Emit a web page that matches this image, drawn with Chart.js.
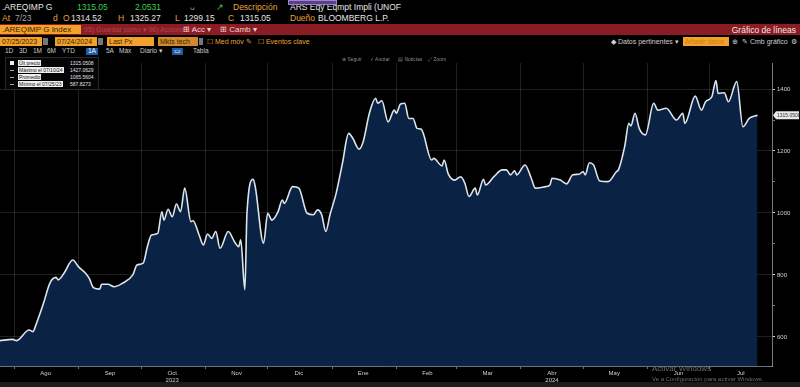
<!DOCTYPE html>
<html>
<head>
<meta charset="utf-8">
<script src="https://cdn.jsdelivr.net/npm/chart.js@4.4.1/dist/chart.umd.min.js"></script>
<style>
  body { margin: 0; width: 800px; height: 387px; background: #000; overflow: hidden; position: relative;
         font-family: 'Liberation Sans', Arial, sans-serif; }
  .t { position: absolute; white-space: nowrap; line-height: 1; }
  .w { color: #e6e6e6; }
  .g { color: #3fcf4f; }
  .o { color: #e9a23b; }
  .gr { color: #a0a0a0; }
  .r1 { top: 3px; font-size: 8.5px; }
  .r2 { top: 14px; font-size: 8.5px; }
  .bar { position: absolute; left: 0; top: 24px; width: 800px; height: 11px; background: #8a1c24; }
  .box { position: absolute; top: 37px; height: 9px; background: #f3a12a; color: #3a2400; font-size: 7px;
         line-height: 9px; padding-left: 2px; box-sizing: border-box; }
  .r4 { top: 38px; font-size: 7px; }
  .r5 { top: 48px; font-size: 6.5px; color: #c9c9c9; }
  .tb { top: 57px; font-size: 5px; color: #8a8a8a; z-index: 2; }
  #grafico { position: absolute; left: 0; top: 56px; }
  .ley { position: absolute; left: 5px; top: 57px; width: 92px; height: 31px; background: #050505;
         border: 1px solid #2a2a2a; z-index: 2; font-size: 5px; }
  .fila { position: absolute; left: 0; height: 6px; width: 92px; }
  .fila .m { position: absolute; left: 4px; top: 1px; width: 4px; height: 4px; }
  .fila .e { position: absolute; left: 12px; top: 0; background: #f0f0f0; color: #111; padding: 0 1px; line-height: 6px; }
  .fila .v { position: absolute; left: 64px; top: 0; color: #e0e0e0; line-height: 6px; }
  .pie { position: absolute; left: 0; top: 382px; width: 800px; height: 5px; background: #1c1c1c; }
</style>
</head>
<body>
<!-- fila de cotizacion -->
<div class="t r1 w" style="left:2px">.AREQIMP G</div>
<div class="t r1 g" style="left:77px">1315.05</div>
<div class="t r1 g" style="left:135px">2.0531</div>
<div class="t r1 gr" style="left:190px">ᴗ</div>
<div class="t r1 g" style="left:216px">↗</div>
<div class="t r1 o" style="left:233px">Descripción</div>
<div class="t r1 w" style="left:290px">ARS Eqy Eqmpt Impli (UNOF</div>
<div style="position:absolute;left:288px;top:0;width:47px;height:3px;background:#5b3f8f;border:1px solid #9b86c4"></div>

<div class="t r2 o" style="left:2px">At</div>
<div class="t r2 gr" style="left:15px">7/23</div>
<div class="t r2 o" style="left:53px">d</div>
<div class="t r2 o" style="left:63px">O</div>
<div class="t r2 w" style="left:71px">1314.52</div>
<div class="t r2 o" style="left:118px">H</div>
<div class="t r2 w" style="left:130px">1325.27</div>
<div class="t r2 o" style="left:175px">L</div>
<div class="t r2 w" style="left:184px">1299.15</div>
<div class="t r2 o" style="left:228px">C</div>
<div class="t r2 w" style="left:240px">1315.05</div>
<div class="t r2 o" style="left:290px">Dueño</div>
<div class="t r2 w" style="left:318px">BLOOMBERG L.P.</div>

<!-- barra roja -->
<div class="bar"></div>
<div class="box" style="top:25px;left:0;width:81px;font-size:8px;">.AREQIMP G Index</div>
<div class="t" style="top:26px;left:84px;font-size:7px;color:#b0464c">95) Guardar como ▾  96) Acciones ▾</div>
<div class="t" style="top:26px;left:183px;font-size:8px;color:#f1d0d3">⊞ Acc ▾</div>
<div class="t" style="top:26px;left:220px;font-size:8px;color:#f1d0d3">⊞ Camb ▾</div>
<div class="t" style="top:26px;right:4px;font-size:8.5px;color:#f4e4e6">Gráfico de líneas</div>

<!-- fila de controles -->
<div class="box" style="left:0;width:42px">07/25/2023</div>
<div style="position:absolute;left:43px;top:38px;width:5px;height:7px;background:#777"></div>
<div class="box" style="left:55px;width:42px">07/24/2024</div>
<div style="position:absolute;left:98px;top:38px;width:5px;height:7px;background:#777"></div>
<div class="box" style="left:107px;width:47px">Last Px</div>
<div class="box" style="left:158px;width:40px;background:#d4882c">Mkts tech</div>
<div style="position:absolute;left:199px;top:38px;width:4px;height:7px;background:#777"></div>
<div class="t r4 o" style="left:207px">☐ Med móv ✎</div>
<div class="t r4 o" style="left:258px">☐ Eventos clave</div>
<div class="t r4" style="left:611px;color:#cfcfcf">◆ Datos pertinentes ▾</div>
<div class="box" style="left:683px;width:46px;color:#c77f14">Añadir datos</div>
<div class="t r4" style="left:732px;color:#cfcfcf">⊕</div>
<div class="t r4" style="left:742px;color:#cfcfcf">✎ Cmb gráfico</div>
<div class="t r4" style="left:791px;color:#cfcfcf">⚙</div>

<!-- periodos -->
<div class="t r5" style="left:5px">1D</div>
<div class="t r5" style="left:19px">3D</div>
<div class="t r5" style="left:33px">1M</div>
<div class="t r5" style="left:47px">6M</div>
<div class="t r5" style="left:62px">YTD</div>
<div class="t r5" style="left:86px;background:#1d5ca6;color:#fff;padding:0 2px">1A</div>
<div class="t r5" style="left:106px">5A</div>
<div class="t r5" style="left:119px">Máx</div>
<div class="t r5" style="left:140px">Diario ▾</div>
<div class="t r5" style="left:172px;background:#1d5ca6;color:#fff;padding:0 2px">▭</div>
<div class="t r5" style="left:193px">Tabla</div>

<!-- barra de herramientas del grafico -->
<div class="t tb" style="left:342px">⊕ Seguir</div>
<div class="t tb" style="left:370px">✓ Anotar</div>
<div class="t tb" style="left:398px">▤ Noticias</div>
<div class="t tb" style="left:428px">⤢ Zoom</div>

<canvas id="grafico" width="800" height="326"></canvas>

<!-- leyenda -->
<div class="ley">
  <div class="fila" style="top:2px"><span class="m" style="background:#eee"></span><span class="e">Últ precio</span><span class="v">1315.0508</span></div>
  <div class="fila" style="top:9px"><span class="m" style="height:1px;top:3px;background:#aaa"></span><span class="e">Máximo el 07/10/24</span><span class="v">1427.0629</span></div>
  <div class="fila" style="top:16px"><span class="m" style="height:1px;top:3px;background:#aaa"></span><span class="e">Promedio</span><span class="v">1065.5604</span></div>
  <div class="fila" style="top:23px"><span class="m" style="height:1px;top:3px;background:#aaa"></span><span class="e">Mínimo el 07/25/23</span><span class="v">587.8273</span></div>
</div>

<div class="t" style="left:652px;top:365px;font-size:8px;color:#6d6d6d">Activar Windows</div>
<div class="t" style="left:652px;top:376px;font-size:6px;color:#6d6d6d">Ve a Configuración para activar Windows.</div>
<div class="pie"></div>

<script>
const fechas = [
  '2023-07-25', '2023-07-31', '2023-08-02', '2023-08-08', '2023-08-10', '2023-08-11', '2023-08-15', '2023-08-18',
  '2023-08-21', '2023-08-22', '2023-08-25', '2023-08-29', '2023-09-01', '2023-09-04', '2023-09-06', '2023-09-08',
  '2023-09-11', '2023-09-12', '2023-09-15', '2023-09-18', '2023-09-22', '2023-09-27', '2023-09-29', '2023-10-02',
  '2023-10-04', '2023-10-06', '2023-10-09', '2023-10-11', '2023-10-12', '2023-10-14', '2023-10-16', '2023-10-18',
  '2023-10-20', '2023-10-22', '2023-10-25', '2023-10-26', '2023-10-29', '2023-10-31', '2023-11-02', '2023-11-04',
  '2023-11-06', '2023-11-08', '2023-11-12', '2023-11-15', '2023-11-17', '2023-11-18', '2023-11-20', '2023-11-21',
  '2023-11-24', '2023-11-25', '2023-11-29', '2023-12-01', '2023-12-03', '2023-12-06', '2023-12-08', '2023-12-09',
  '2023-12-13', '2023-12-16', '2023-12-20', '2023-12-23', '2023-12-25', '2023-12-27', '2023-12-29', '2023-12-31',
  '2024-01-03', '2024-01-06', '2024-01-09', '2024-01-11', '2024-01-14', '2024-01-16', '2024-01-19', '2024-01-22',
  '2024-01-23', '2024-01-25', '2024-01-28', '2024-01-31', '2024-02-01', '2024-02-03', '2024-02-05', '2024-02-07',
  '2024-02-09', '2024-02-11', '2024-02-13', '2024-02-18', '2024-02-19', '2024-02-23', '2024-02-24', '2024-02-26',
  '2024-02-29', '2024-03-03', '2024-03-05', '2024-03-07', '2024-03-10', '2024-03-11', '2024-03-14', '2024-03-15',
  '2024-03-19', '2024-03-23', '2024-03-25', '2024-03-27', '2024-03-29', '2024-03-30', '2024-04-03', '2024-04-06',
  '2024-04-08', '2024-04-13', '2024-04-15', '2024-04-16', '2024-04-20', '2024-04-23', '2024-04-26', '2024-04-29',
  '2024-05-01', '2024-05-02', '2024-05-04', '2024-05-06', '2024-05-09', '2024-05-13', '2024-05-17', '2024-05-18',
  '2024-05-21', '2024-05-23', '2024-05-24', '2024-05-26', '2024-05-28', '2024-05-31', '2024-06-04', '2024-06-06',
  '2024-06-10', '2024-06-15', '2024-06-18', '2024-06-19', '2024-06-24', '2024-06-27', '2024-06-29', '2024-07-02',
  '2024-07-04', '2024-07-05', '2024-07-08', '2024-07-10', '2024-07-14', '2024-07-17', '2024-07-20', '2024-07-24'
];

const valores = [
  587.83, 592, 588, 622, 617, 633, 709, 773,
  792, 784, 807, 848, 825, 807, 789, 759,
  754, 770, 770, 762, 773, 800, 832, 838,
  891, 929, 934, 1004, 977, 1012, 988, 1029,
  1004, 1080, 972, 975, 928, 897, 932, 918,
  940, 886, 940, 907, 891, 913, 752, 999,
  1109, 1085, 902, 999, 977, 1004, 1042, 1031,
  1085, 1080, 999, 994, 1010, 994, 940, 994,
  1064, 1160, 1257, 1241, 1206, 1230, 1322, 1370,
  1354, 1362, 1294, 1332, 1322, 1352, 1354, 1305,
  1305, 1273, 1270, 1171, 1176, 1152, 1171, 1126,
  1106, 1117, 1096, 1053, 1080, 1058, 1109, 1090,
  1117, 1139, 1139, 1123, 1136, 1123, 1155, 1112,
  1080, 1085, 1090, 1112, 1106, 1094, 1123, 1125,
  1133, 1123, 1162, 1155, 1103, 1101, 1133, 1139,
  1214, 1289, 1281, 1322, 1273, 1252, 1354, 1332,
  1338, 1300, 1322, 1289, 1377, 1332, 1359, 1375,
  1427.06, 1386, 1388, 1359, 1424, 1278, 1305, 1315.0508
];

const meses = ['Ago', 'Sep', 'Oct', 'Nov', 'Dic', 'Ene', 'Feb', 'Mar', 'Abr', 'May', 'Jun', 'Jul'];
const anios = ['', '', '2023', '', '', '', '', '', '2024', '', '', ''];
const ticksPrecio = [600, 700, 800, 900, 1000, 1100, 1200, 1300, 1400];

const inicio = Date.UTC(2023, 6, 25);
const aDia = (ms) => (ms - inicio) / 864e5;
const puntos = fechas.map((f, i) => ({ x: aDia(Date.parse(f)), y: valores[i] }));

// inicio y mitad de cada mes, alternados
const ticksMes = [];
meses.forEach((m, i) => {
  ticksMes.push({ value: aDia(Date.UTC(2023, 7 + i, 1)) });
  ticksMes.push({ value: aDia(Date.UTC(2023, 7 + i, 16)) });
});

const etiquetaPrecio = {
  id: 'etiquetaPrecio',
  afterDraw(chart) {
    const { ctx, chartArea } = chart;
    const ultimo = valores[valores.length - 1];
    const py = chart.scales.y.getPixelForValue(ultimo);
    const x0 = chartArea.right + 1;
    ctx.save();
    ctx.fillStyle = '#e9e9e9';
    ctx.beginPath();
    ctx.moveTo(x0, py);
    ctx.lineTo(x0 + 3, py - 4);
    ctx.lineTo(799, py - 4);
    ctx.lineTo(799, py + 4);
    ctx.lineTo(x0 + 3, py + 4);
    ctx.closePath();
    ctx.fill();
    ctx.fillStyle = '#333';
    ctx.font = '5px "Liberation Sans", Arial';
    ctx.textBaseline = 'middle';
    ctx.fillText(ultimo.toFixed(4), x0 + 4, py + 0.5);
    ctx.restore();
  }
};

new Chart(document.getElementById('grafico'), {
  type: 'line',
  data: {
    datasets: [{
      data: puntos,
      borderColor: '#dde4ec',
      borderWidth: 1.6,
      backgroundColor: '#0a2244',
      fill: 'start',
      pointRadius: 0,
      cubicInterpolationMode: 'monotone'
    }]
  },
  options: {
    responsive: false,
    animation: false,
    layout: { padding: { top: 7, left: 0, right: 0, bottom: 0 } },
    plugins: { legend: { display: false }, tooltip: { enabled: false } },
    scales: {
      x: {
        type: 'linear',
        min: 0,
        max: 372,
        afterBuildTicks: (s) => { s.ticks = ticksMes.map((t) => ({ value: t.value })); },
        afterFit: (s) => { s.height = 16; },
        grid: {
          color: (c) => (c.index % 2 === 0 ? 'rgba(255,255,255,0.13)' : 'transparent'),
          tickColor: (c) => (c.index % 2 === 0 ? 'rgba(220,220,220,0.5)' : 'transparent'),
          tickLength: 3
        },
        border: { color: 'rgba(190,205,225,0.55)' },
        ticks: {
          autoSkip: false,
          maxRotation: 0,
          color: '#cfcfcf',
          font: { size: 6 },
          padding: 1,
          callback: (v, i) => {
            if (i % 2 === 0) return '';
            const k = (i - 1) / 2;
            return anios[k] ? [meses[k], anios[k]] : meses[k];
          }
        }
      },
      y: {
        position: 'right',
        min: 506,
        max: 1484,
        afterBuildTicks: (s) => { s.ticks = ticksPrecio.map((v) => ({ value: v })); },
        afterFit: (s) => { s.width = 28; },
        grid: {
          color: (c) => (c.tick && c.tick.value % 200 === 0 ? 'rgba(255,255,255,0.12)' : 'transparent'),
          tickColor: (c) => (c.tick && c.tick.value % 200 === 0 ? '#d8d8d8' : '#777'),
          tickLength: 3
        },
        border: { color: 'rgba(200,200,200,0.6)' },
        ticks: {
          color: '#d0d0d0',
          font: { size: 6 },
          padding: 2,
          callback: (v) => (v % 200 === 0 ? v : '')
        }
      }
    }
  },
  plugins: [etiquetaPrecio]
});
</script>
</body>
</html>
